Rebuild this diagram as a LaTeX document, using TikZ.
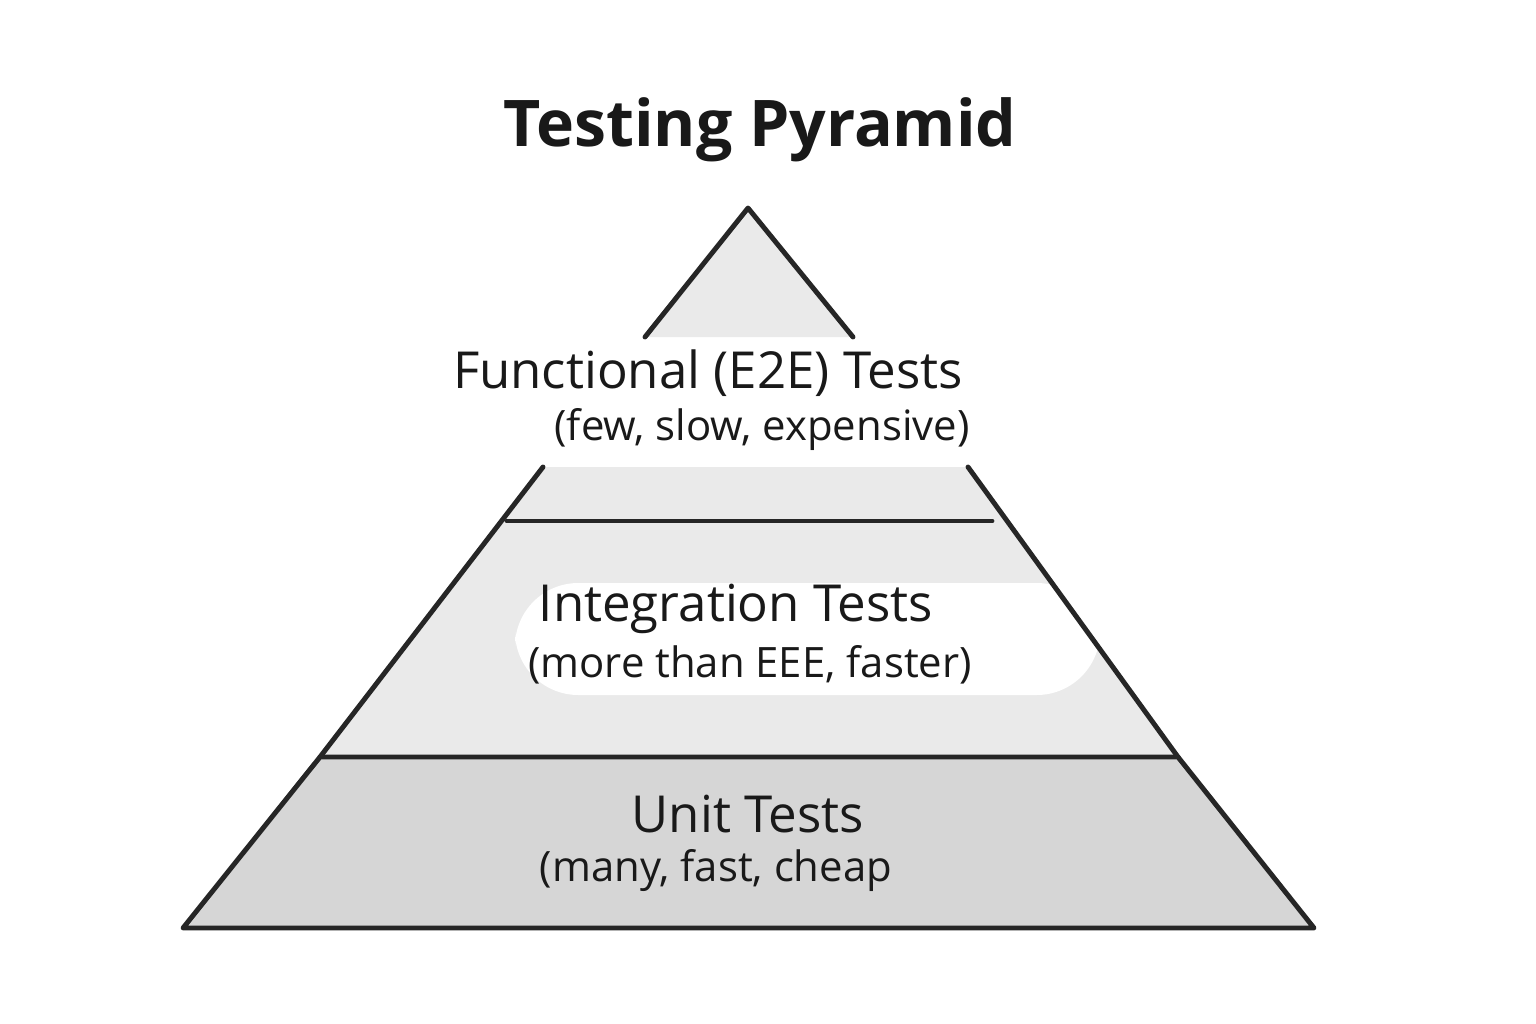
\documentclass[tikz,border=0pt]{standalone}
\usepackage{fontspec}
\setmainfont{Open Sans}
\usetikzlibrary{positioning}
\definecolor{lightband}{HTML}{EAEAEA}
\definecolor{darkband}{HTML}{D6D6D6}
\tikzset{
  edge/.style={line width=1.4pt, line join=round, line cap=round, draw=black!85},
  title/.style={font=\fontsize{18.3}{22}\selectfont\bfseries, text=black!90},
  label/.style={font=\fontsize{14.5}{17}\selectfont, text=black!90},
  sub/.style={font=\fontsize{11.9}{14}\selectfont, text=black!90}
}
\begin{document}
\begin{tikzpicture}[x=0.01cm,y=-0.01cm]
		\useasboundingbox (0,0) rectangle (1536,1024);
		\fill [white] (0,0) rectangle (1536,1024);

		% top of the pyramid
		\fill [lightband] (748,208) -- (645,337) -- (853,337) -- cycle;
		\draw [edge] (645,337) -- (748,208) -- (853,337);

		% middle bands
		\fill [lightband] (543,467) -- (968,467) -- (1178,757) -- (320,757) -- cycle;
		\fill [white, rounded corners=18pt] (515,583) rectangle (1100,695);
		\draw [edge] (543,467) -- (320,757);
		\draw [edge] (968,467) -- (1178,757);
		\draw [edge] (507,521) -- (992,521);

		% base band
		\fill [darkband] (320,757) -- (1178,757) -- (1314,928) -- (183,928) -- cycle;
		\draw [edge] (320,757) -- (1178,757) -- (1314,928) -- (183,928) -- cycle;

		\node [title] (title) at (760,130) {Testing Pyramid};
		\node [label] (e2e) at (708,373) {Functional (E2E) Tests};
		\node [sub] (e2esub) at (762,430) {(few, slow, expensive)};
		\node [label] (integ) at (736,609) {Integration Tests};
		\node [sub] (integsub) at (750,665) {(more than EEE, faster)};
		\node [label] (unit) at (748,814) {Unit Tests};
		\node [sub] (unitsub) at (716,871) {(many, fast, cheap};
	\end{tikzpicture}
\end{document}
